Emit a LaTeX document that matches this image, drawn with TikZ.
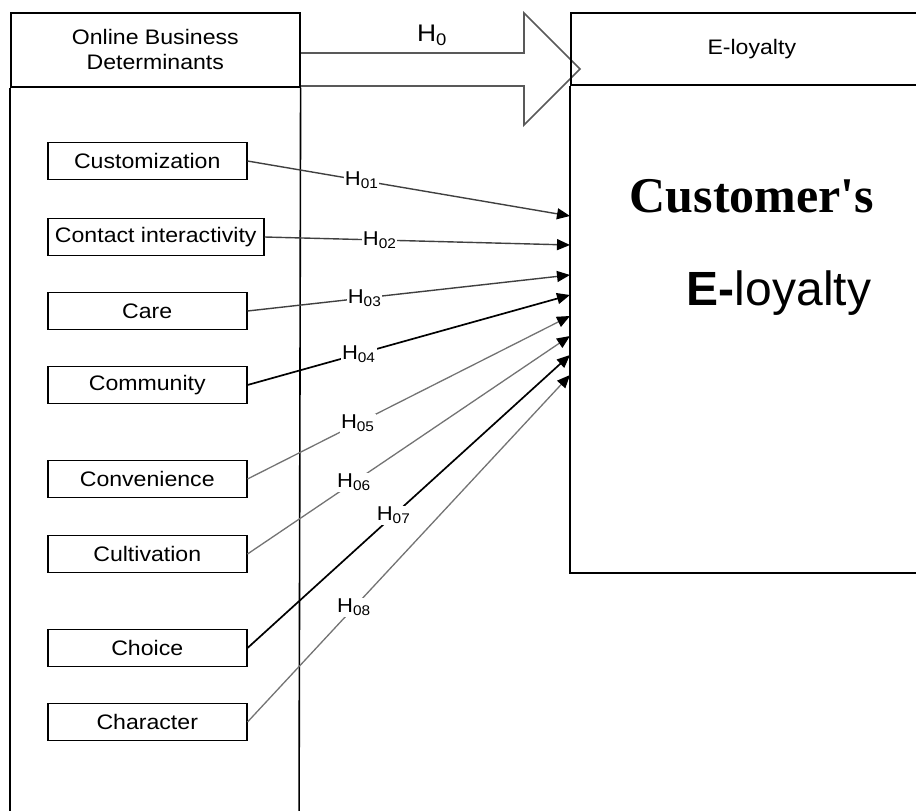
\documentclass[tikz,border=0pt]{standalone}
\usepackage{fontspec}
\setmainfont{Liberation Sans}
\newfontfamily\arialx[FakeStretch=1.1]{Liberation Sans}
\newfontfamily\timesf[Ligatures=TeXOff]{Liberation Serif}
\usetikzlibrary{arrows.meta}
\begin{document}
\begin{tikzpicture}[x=1pt,y=-1pt,
  frame/.style={draw=black,line width=1.6pt},
  fbox/.style={draw=black,line width=1.5pt,minimum height=37pt,anchor=west,inner sep=0pt,
    font=\arialx\fontsize{21}{25}\selectfont},
  link/.style={line width=1.4pt,-{Triangle[length=13pt,width=11pt,color=black]}},
  hlab/.style={fill=white,inner sep=1pt,font=\arialx\fontsize{20}{23}\selectfont},
]
\useasboundingbox (0,0) rectangle (916,811);
\clip (0,0) rectangle (916,811);

% H0 block arrow
\draw[line width=1.7pt,draw=black!65,line join=miter]
  (299,53) -- (524,53) -- (524,13) -- (580,69) -- (524,125) -- (524,86) -- (299,86);
\node[font=\arialx\fontsize{24}{28}\selectfont] (h0) at (432,35) {H\textsubscript{0}};

% left frame
\node[frame,minimum width=289pt,minimum height=74pt,anchor=north west,inner sep=0pt,align=center,
  font=\arialx\fontsize{21}{25}\selectfont] (obd) at (10,12) {Online Business\\Determinants};
\draw[frame] (obd.south west) -- (10,840);
\draw[frame] (obd.south east) -- (299,840);

% right frame
\node[frame,minimum width=362pt,minimum height=72pt,anchor=north west,inner sep=0pt,
  font=\arialx\fontsize{21}{25}\selectfont] (eh) at (570,12) {E-loyalty};
\draw[frame] (eh.south west) -- (570,573) -- (940,573);

\node[font=\timesf\bfseries\fontsize{50}{60}\selectfont,anchor=base] (cs) at (752,212) {Customer's};
\node[font=\fontsize{48}{58}\selectfont,anchor=base] (el) at (779,305) {\textbf{E-}loyalty};

% determinant boxes
\node[fbox,minimum width=199pt] (c1) at (47,161) {Customization};
\node[fbox,minimum width=216pt] (c2) at (47,237) {Contact interactivity};
\node[fbox,minimum width=199pt] (c3) at (47,311) {Care};
\node[fbox,minimum width=199pt] (c4) at (47,385) {Community};
\node[fbox,minimum width=199pt] (c5) at (47,479) {Convenience};
\node[fbox,minimum width=199pt] (c6) at (47,554) {Cultivation};
\node[fbox,minimum width=199pt] (c7) at (47,648) {Choice};
\node[fbox,minimum width=199pt] (c8) at (47,722) {Character};

\coordinate (t1) at (570,216);
\coordinate (t2) at (570,245);
\coordinate (t3) at (570,275);
\coordinate (t4) at (570,295);
\coordinate (t5) at (570,316);
\coordinate (t6) at (570,336);
\coordinate (t7) at (570,355);
\coordinate (t8) at (570,375);

\draw[link,draw=black!75] (c1.east) -- (t1) node[hlab,pos=0.354] (l1) {H\textsubscript{01}};
\draw[link,draw=black!75] (c2.east) -- (t2) node[hlab,pos=0.377] (l2) {H\textsubscript{02}};
\draw[link,draw=black!75] (c3.east) -- (t3) node[hlab,pos=0.363] (l3) {H\textsubscript{03}};
\draw[link,draw=black,line width=1.7pt] (c4.east) -- (t4) node[hlab,pos=0.345] (l4) {H\textsubscript{04}};
\draw[link,draw=black!55,line width=1.3pt] (c5.east) -- (t5) node[hlab,pos=0.342] (l5) {H\textsubscript{05}};
\draw[link,draw=black!55,line width=1.3pt] (c6.east) -- (t6) node[hlab,pos=0.33] (l6) {H\textsubscript{06}};
\draw[link,draw=black,line width=1.7pt] (c7.east) -- (t7) node[hlab,pos=0.453] (l7) {H\textsubscript{07}};
\draw[link,draw=black!55,line width=1.3pt] (c8.east) -- (t8) node[hlab,pos=0.33] (l8) {H\textsubscript{08}};
\end{tikzpicture}
\end{document}
